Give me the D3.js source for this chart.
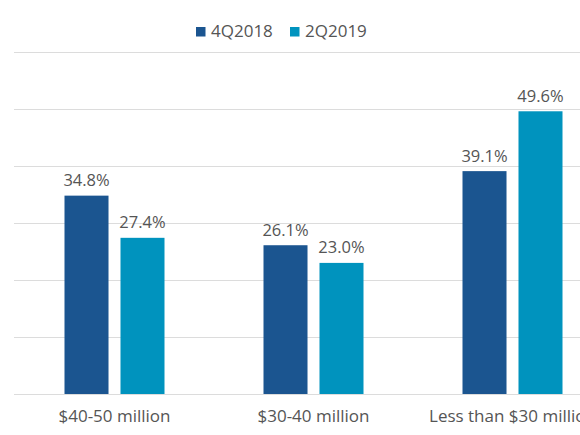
<!DOCTYPE html>
<html>
<head>
<meta charset="utf-8">
<script src="https://cdn.jsdelivr.net/npm/d3@7"></script>
<style>
  html, body { margin: 0; padding: 0; background: #fff; }
  svg { display: block; font-family: "Open Sans", Lato, sans-serif; }
</style>
</head>
<body>
<svg id="chart" width="580" height="435"></svg>
<script>
const categories = ["$40-50 million", "$30-40 million", "Less than $30 million"];
const seriesNames = ["4Q2018", "2Q2019"];
const values4Q2018 = [34.8, 26.1, 39.1];
const values2Q2019 = [27.4, 23.0, 49.6];
const yTicks = [0, 10, 20, 30, 40, 50, 60];
const colors = ["#1b5590", "#0093be"];

const seriesValues = [values4Q2018, values2Q2019];
const svg = d3.select("#chart");

const x = d3.scaleBand().domain(categories).range([15, 612]).padding(0);
const inner = d3.scaleBand().domain(seriesNames).range([0, 100]).paddingInner(0.214).paddingOuter(0);
const y = d3.scaleLinear().domain([0, 60]).range([394, 52]);

// gridlines
svg.append("g").selectAll("line").data(yTicks).join("line")
  .attr("x1", 14).attr("x2", 620)
  .attr("y1", d => Math.round(y(d)) + 0.5).attr("y2", d => Math.round(y(d)) + 0.5)
  .attr("stroke", "#dcdcdc").attr("stroke-width", 1);

// bars
const groups = svg.append("g").selectAll("g").data(categories).join("g")
  .attr("transform", d => `translate(${x(d) + x.bandwidth() / 2 - 50},0)`);

seriesNames.forEach((s, si) => {
  groups.append("rect")
    .attr("x", inner(s))
    .attr("width", inner.bandwidth())
    .attr("y", (d, i) => y(seriesValues[si][i]))
    .attr("height", (d, i) => y(0) - y(seriesValues[si][i]))
    .attr("fill", colors[si]);
  groups.append("text")
    .attr("x", inner(s) + inner.bandwidth() / 2)
    .attr("y", (d, i) => y(seriesValues[si][i]) - 9.5)
    .attr("text-anchor", "middle")
    .attr("font-size", 16.5)
    .attr("fill", "#555")
    .text((d, i) => seriesValues[si][i].toFixed(1) + "%");
});

// x axis labels
svg.append("g").selectAll("text").data(categories).join("text")
  .attr("x", d => x(d) + x.bandwidth() / 2)
  .attr("y", 422)
  .attr("text-anchor", "middle")
  .attr("font-size", 17)
  .attr("fill", "#555")
  .text(d => d);

// legend
const legendX = [196, 290];
const legend = svg.append("g").selectAll("g").data(seriesNames).join("g")
  .attr("transform", (d, i) => `translate(${legendX[i]},0)`);
legend.append("rect").attr("x", 0).attr("y", 27).attr("width", 9.5).attr("height", 9.5)
  .attr("fill", (d, i) => colors[i]);
legend.append("text").attr("x", 15).attr("y", 36.5)
  .attr("font-size", 17).attr("fill", "#555").text(d => d);
</script>
</body>
</html>
